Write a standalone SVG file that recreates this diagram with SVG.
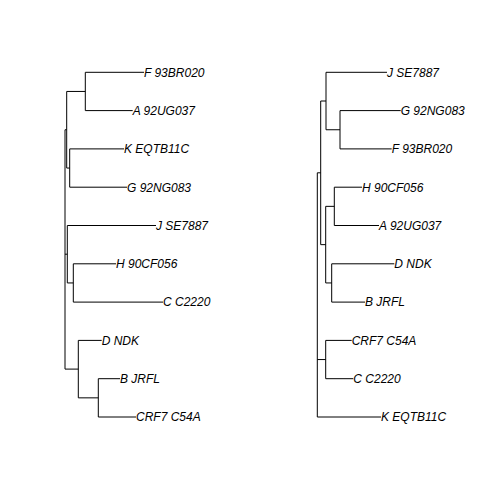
<svg xmlns="http://www.w3.org/2000/svg" width="504" height="504" viewBox="0 0 504 504">
<style>
.e{stroke:#000;stroke-width:1;fill:none}
.t{font-family:"Liberation Sans",Arial,sans-serif;font-size:12px;font-style:italic;fill:#000}
</style>
<rect width="504" height="504" fill="#fff"/>
<g id="connectors">
<g id="left-tree-edges">
<path class="e" d="M65,129.75V369.1"/>
<path class="e" d="M65,129.75H66.7M66.7,91.45V168.05"/>
<path class="e" d="M66.7,91.45H85.3M85.3,72.3V110.6M85.3,72.3H144M85.3,110.6H132.7"/>
<path class="e" d="M66.7,168.05H69.7M69.7,148.9V187.2M69.7,148.9H124M69.7,187.2H127"/>
<path class="e" d="M65,254.2H67.3M67.3,225.5V282.95M67.3,225.5H156M67.3,282.95H73.3M73.3,263.8V302.1M73.3,263.8H116M73.3,302.1H163"/>
<path class="e" d="M65,369.1H78.3M78.3,340.4V397.85M78.3,340.4H101.7M78.3,397.85H98.3M98.3,378.7V417M98.3,378.7H120M98.3,417H136"/>
</g>
<g id="right-tree-edges">
<path class="e" d="M317.3,172.8V417M317.3,417H381"/>
<path class="e" d="M317.3,172.8H320.7M320.7,101V244.65"/>
<path class="e" d="M320.7,101H326M326,72.3V129.75M326,72.3H387M326,129.75H340M340,110.6V148.9M340,110.6H400.7M340,148.9H391.7"/>
<path class="e" d="M320.7,244.65H325.7M325.7,206.35V282.95M325.7,206.35H334.3M334.3,187.2V225.5M334.3,187.2H362M334.3,225.5H379M325.7,282.95H331.7M331.7,263.8V302.1M331.7,263.8H394.3M331.7,302.1H365"/>
<path class="e" d="M317.3,359.55H325.7M325.7,340.4V378.7M325.7,340.4H351.7M325.7,378.7H353.3"/>
</g>
</g>
<g id="left-tree">
<g id="L-F"><text class="t" x="144" y="76.6">F 93BR020</text></g>
<g id="L-A"><text class="t" x="132.7" y="114.9">A 92UG037</text></g>
<g id="L-K"><text class="t" x="124" y="153.2">K EQTB11C</text></g>
<g id="L-G"><text class="t" x="127" y="191.5">G 92NG083</text></g>
<g id="L-J"><text class="t" x="156" y="229.8">J SE7887</text></g>
<g id="L-H"><text class="t" x="116" y="268.1">H 90CF056</text></g>
<g id="L-C"><text class="t" x="163" y="306.4">C C2220</text></g>
<g id="L-D"><text class="t" x="101.7" y="344.7">D NDK</text></g>
<g id="L-B"><text class="t" x="120" y="383">B JRFL</text></g>
<g id="L-CRF7"><text class="t" x="136" y="421.3">CRF7 C54A</text></g>
</g>
<g id="right-tree">
<g id="R-J"><text class="t" x="387" y="76.6">J SE7887</text></g>
<g id="R-G"><text class="t" x="400.7" y="114.9">G 92NG083</text></g>
<g id="R-F"><text class="t" x="391.7" y="153.2">F 93BR020</text></g>
<g id="R-H"><text class="t" x="362" y="191.5">H 90CF056</text></g>
<g id="R-A"><text class="t" x="379" y="229.8">A 92UG037</text></g>
<g id="R-D"><text class="t" x="394.3" y="268.1">D NDK</text></g>
<g id="R-B"><text class="t" x="365" y="306.4">B JRFL</text></g>
<g id="R-CRF7"><text class="t" x="351.7" y="344.7">CRF7 C54A</text></g>
<g id="R-C"><text class="t" x="353.3" y="383">C C2220</text></g>
<g id="R-K"><text class="t" x="381" y="421.3">K EQTB11C</text></g>
</g>
</svg>
